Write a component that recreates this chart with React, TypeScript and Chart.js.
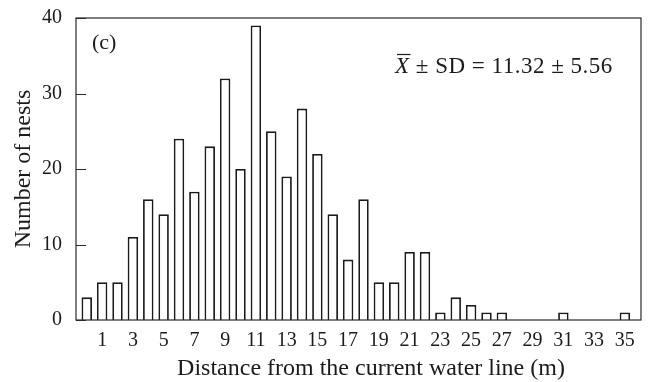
import React, { useEffect, useRef } from "react";
import { Chart, registerables } from "chart.js";

Chart.register(...registerables);

const distances = [0, 1, 2, 3, 4, 5, 6, 7, 8, 9, 10, 11, 12, 13, 14, 15, 16, 17, 18, 19, 20, 21, 22, 23, 24, 25, 26, 27, 28, 29, 30, 31, 32, 33, 34, 35];
const nestCounts = [3, 5, 5, 11, 16, 14, 24, 17, 23, 32, 20, 39, 25, 19, 28, 22, 14, 8, 16, 5, 5, 9, 9, 1, 3, 2, 1, 1, 0, 0, 0, 1, 0, 0, 0, 1];
const xTickValues = [1, 3, 5, 7, 9, 11, 13, 15, 17, 19, 21, 23, 25, 27, 29, 31, 33, 35];
const yTickValues = [0, 10, 20, 30, 40];
const xTitle = "Distance from the current water line (m)";
const yTitle = "Number of nests";
const panelLabel = "(c)";
const statsSymbol = "X";
const statsText = " ± SD = 11.32 ± 5.56";

const FONT = "'Liberation Serif', 'Times New Roman', serif";
const INK = "#1c1a1a";

const decorPlugin = {
  id: "decor",
  afterDraw(chart: any) {
    const { ctx, chartArea, scales } = chart;
    const { left, top, right, bottom } = chartArea;
    ctx.save();
    // frame
    ctx.strokeStyle = "#2a2a2a";
    ctx.lineWidth = 1.2;
    ctx.strokeRect(left, top, right - left, bottom - top);
    // inward y ticks
    ctx.beginPath();
    yTickValues.forEach((v) => {
      const y = Math.round(scales.y.getPixelForValue(v)) + 0.5;
      ctx.moveTo(left, y);
      ctx.lineTo(left + 10, y);
    });
    ctx.stroke();

    ctx.fillStyle = INK;
    // panel label
    ctx.font = `22px ${FONT}`;
    ctx.textAlign = "left";
    ctx.textBaseline = "alphabetic";
    ctx.fillText(panelLabel, left + 16, 49);

    // stats annotation
    const baseX = 395;
    const baseY = 73;
    (ctx as any).letterSpacing = "0.5px";
    ctx.font = `italic 23px ${FONT}`;
    const wX = ctx.measureText(statsSymbol).width;
    ctx.fillText(statsSymbol, baseX, baseY);
    ctx.beginPath();
    ctx.lineWidth = 1.2;
    ctx.strokeStyle = INK;
    ctx.moveTo(baseX + 2, baseY - 18.5);
    ctx.lineTo(baseX + wX + 1, baseY - 18.5);
    ctx.stroke();
    ctx.font = `23px ${FONT}`;
    ctx.fillText(statsText, baseX + wX, baseY);
    (ctx as any).letterSpacing = "0px";

    // x axis title
    ctx.font = `24px ${FONT}`;
    ctx.textAlign = "center";
    ctx.textBaseline = "middle";
    ctx.fillText(xTitle, 371, 369);
    ctx.restore();
  },
};

export default function App() {
  const canvasRef = useRef<HTMLCanvasElement | null>(null);

  useEffect(() => {
    const canvas = canvasRef.current;
    if (!canvas) return;
    const chart = new Chart(canvas, {
      type: "bar",
      data: {
        datasets: [
          {
            data: distances.map((d, i) => ({ x: d, y: nestCounts[i] })),
            backgroundColor: "#ffffff",
            borderColor: "#1a1a1a",
            borderWidth: 1.8,
            borderSkipped: "start",
            barPercentage: 0.68,
            categoryPercentage: 1,
          },
        ],
      },
      plugins: [decorPlugin],
      options: {
        animation: false,
        responsive: false,
        devicePixelRatio: 1,
        layout: { padding: { left: 0, top: 15, right: 7, bottom: 0 } },
        plugins: {
          legend: { display: false },
          tooltip: { enabled: false },
        },
        scales: {
          x: {
            type: "linear",
            offset: false,
            min: -0.7,
            max: 36.05,
            grid: { display: false },
            border: { display: false },
            ticks: {
              font: { family: FONT, size: 20 },
              color: INK,
              padding: 1,
              autoSkip: false,
              maxRotation: 0,
              callback: (v: any) => String(v),
            },
            afterBuildTicks: (scale: any) => {
              scale.ticks = xTickValues.map((v) => ({ value: v }));
            },
            afterFit: (scale: any) => {
              scale.height = 62;
            },
          },
          y: {
            min: 0,
            max: 40,
            grid: { display: false },
            border: { display: false },
            ticks: {
              stepSize: 10,
              font: { family: FONT, size: 20 },
              color: INK,
              padding: 6,
            },
            afterBuildTicks: (scale: any) => {
              scale.ticks = yTickValues.map((v) => ({ value: v }));
            },
            title: {
              display: true,
              text: yTitle,
              color: INK,
              font: { family: FONT, size: 24, lineHeight: 1.2 },
              padding: { top: 9, bottom: 0 },
            },
            afterFit: (scale: any) => {
              scale.width = 76;
            },
          },
        },
      },
    });
    return () => chart.destroy();
  }, []);

  return (
    <div style={{ position: "fixed", left: 0, top: 0, width: 648, height: 382, background: "#fff" }}>
      <canvas ref={canvasRef} width={648} height={382} style={{ display: "block", width: 648, height: 382 }} />
    </div>
  );
}
